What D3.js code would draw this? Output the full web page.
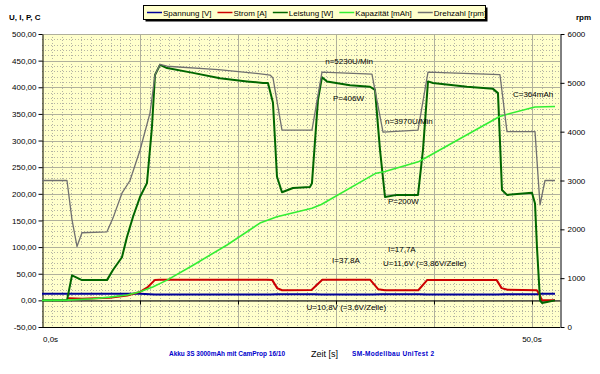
<!DOCTYPE html>
<html>
<head>
<meta charset="utf-8">
<script src="https://cdn.jsdelivr.net/npm/d3@7"></script>
<style>
    body { margin: 0; background: #fff; }
    text { font-family: Arial, "Liberation Sans", sans-serif; }
</style>
</head>
<body>
<div id="chart"></div>
<script>
/* Data (time in s) */
const spannungT = [0, 2.6, 3.0, 10.0, 11.5, 23.3, 24.0, 27.8, 28.5, 33.8, 34.6, 38.5, 39.3, 46.5, 47.2, 50.5, 51.0, 52.35];
const spannungV = [12.6, 12.6, 12.3, 12.2, 10.8, 10.8, 11.6, 11.6, 10.8, 10.8, 11.6, 11.6, 10.8, 10.8, 11.6, 11.7, 12.2, 12.4];

const stromT = [2.65, 4.1, 6.9, 8.7, 10.0, 10.8, 11.5, 12.0, 23.0, 23.5, 24.0, 24.5, 27.5, 28.6, 33.5, 34.3, 35.0, 38.4, 39.3, 46.4, 46.9, 47.5, 50.5, 50.8, 51.0, 52.35];
const stromA = [4, 3, 5, 9, 16, 25, 38, 38.5, 38.5, 38, 23, 19, 19.5, 38.5, 38.5, 21, 19, 19, 38, 38, 23, 20, 19, 10, 0, 0];

const leistungT = [0, 2.55, 3.06, 4.08, 6.63, 7.24, 8.16, 8.67, 9.29, 10.0, 10.71, 11.22, 11.53, 12.04, 12.76, 15.41, 18.16, 20.92, 22.55, 23.06, 23.57, 23.98, 24.49, 25.61, 27.35, 27.55, 28.16, 28.57, 29.08, 31.43, 33.47, 33.98, 34.49, 35.0, 36.22, 38.37, 38.88, 39.39, 39.9, 43.37, 46.02, 46.53, 46.94, 47.45, 50.0, 50.31, 50.51, 50.82, 51.02, 51.53, 52.35];
const leistungW = [0, 0, 47, 38, 38, 57, 81, 119, 157, 194, 220, 325, 423, 442, 436, 427, 417, 411, 408, 408, 371, 232, 203, 211, 213, 220, 376, 419, 411, 404, 401, 395, 283, 194, 198, 198, 283, 411, 408, 401, 397, 389, 207, 198, 202, 182, 100, 0, -5, -3, 0];

const kapazitaetT = [0, 2.6, 5.2, 6.9, 8.7, 10.0, 11.3, 12.76, 15.41, 18.88, 22.24, 23.98, 27.55, 28.5, 34.0, 35.0, 38.4, 39.4, 46.7, 47.4, 50.3, 52.35];
const kapazitaetMAh = [0, 0.5, 3, 6, 10, 16, 25, 38, 66, 104, 145, 157, 173, 180, 238, 242, 260, 270, 345, 349, 363, 364];

const drehzahlT = [0, 2.55, 3.06, 3.57, 4.08, 6.63, 7.24, 8.16, 8.98, 10.0, 11.02, 11.53, 12.04, 12.76, 18.0, 22.5, 23.27, 23.57, 24.49, 27.55, 28.57, 33.67, 34.8, 38.37, 39.39, 46.73, 47.45, 50.31, 50.82, 51.33, 52.35];
const drehzahlRpm = [3000, 3000, 2200, 1650, 1930, 1950, 2230, 2740, 3000, 3620, 4380, 5160, 5380, 5340, 5270, 5180, 5160, 5100, 4030, 4030, 5220, 5180, 3990, 4030, 5220, 5170, 4000, 4000, 2500, 3000, 3000];

const seriesNames = ["Spannung [V]", "Strom [A]", "Leistung [W]", "Kapazität [mAh]", "Drehzahl [rpm]"];
const seriesColors = ["#000099", "#cc0000", "#006600", "#33ee33", "#707070"];

const leftTicks = [-50, 0, 50, 100, 150, 200, 250, 300, 350, 400, 450, 500];
const rightTicks = [0, 1000, 2000, 3000, 4000, 5000, 6000];
const timeLabels = [0, 50];

const notes = [
    { text: "n=5230U/Min", t: 28.9, v: 444 },
    { text: "P=406W", t: 29.7, v: 374 },
    { text: "n=3970U/Min", t: 35.0, v: 331 },
    { text: "C=364mAh", t: 48.06, v: 382 },
    { text: "P=200W", t: 35.3, v: 180 },
    { text: "I=17,7A", t: 35.3, v: 91 },
    { text: "I=37,8A", t: 29.6, v: 70 },
    { text: "U=11,6V (=3,86V/Zelle)", t: 34.8, v: 64.5 },
    { text: "U=10,8V (=3,6V/Zelle)", t: 27.0, v: -18 }
];

/* Layout */
const W = 600, H = 374;
const plot = { left: 42, right: 560, top: 34, bottom: 327 };

const x = d3.scaleLinear().domain([0, 52.86]).range([plot.left, plot.right]);
const yL = d3.scaleLinear().domain([-50, 500]).range([plot.bottom, plot.top]);
const yR = d3.scaleLinear().domain([0, 6000]).range([plot.bottom, plot.top]);

const svg = d3.select("#chart").append("svg")
    .attr("width", W)
    .attr("height", H);

/* Plot background */
svg.append("rect")
    .attr("x", plot.left).attr("y", plot.top)
    .attr("width", plot.right - plot.left)
    .attr("height", plot.bottom - plot.top)
    .attr("fill", "#ffffcc");

/* Grid: dotted minor, solid major */
const grid = svg.append("g");
grid.selectAll("line.minorh")
    .data(d3.range(-50, 501, 10).filter(v => v % 50 != 0))
    .enter().append("line")
    .attr("x1", plot.left).attr("x2", plot.right)
    .attr("y1", d => Math.round(yL(d)) + 0.5).attr("y2", d => Math.round(yL(d)) + 0.5)
    .attr("stroke", "#b4b4a4").attr("stroke-dasharray", "1,2");
grid.selectAll("line.minorv")
    .data(d3.range(1, 53).filter(t => t % 10 != 0))
    .enter().append("line")
    .attr("x1", d => Math.round(x(d)) + 0.5).attr("x2", d => Math.round(x(d)) + 0.5)
    .attr("y1", plot.top).attr("y2", plot.bottom)
    .attr("stroke", "#b4b4a4").attr("stroke-dasharray", "1,2");
grid.selectAll("line.majorh")
    .data(d3.range(-50, 501, 50))
    .enter().append("line")
    .attr("x1", plot.left).attr("x2", plot.right)
    .attr("y1", d => Math.round(yL(d)) + 0.5).attr("y2", d => Math.round(yL(d)) + 0.5)
    .attr("stroke", "#b0b09c");
grid.selectAll("line.majorv")
    .data(d3.range(10, 53, 10))
    .enter().append("line")
    .attr("x1", d => Math.round(x(d)) + 0.5).attr("x2", d => Math.round(x(d)) + 0.5)
    .attr("y1", plot.top).attr("y2", plot.bottom)
    .attr("stroke", "#b0b09c");

/* Axes */
const fmtLeft = d => d.toFixed(2).replace(".", ",");

const leftAxis = svg.append("g")
    .attr("transform", "translate(" + (plot.left + 0.5) + ",0)")
    .call(d3.axisLeft(yL).tickValues(leftTicks).tickFormat(fmtLeft).tickSize(4).tickSizeOuter(0));

const rightAxis = svg.append("g")
    .attr("transform", "translate(" + (plot.right + 0.5) + ",0)")
    .call(d3.axisRight(yR).tickValues(rightTicks).tickFormat(d => d).tickSize(4).tickSizeOuter(0));

// zero line with the time ticks
const zeroAxis = svg.append("g")
    .attr("transform", "translate(0," + (Math.round(yL(0)) + 0.5) + ")")
    .call(d3.axisBottom(x).tickValues(d3.range(10, 53, 10)).tickFormat("").tickSize(4).tickSizeOuter(0));

svg.append("line")
    .attr("x1", plot.left).attr("x2", plot.right)
    .attr("y1", plot.bottom + 0.5).attr("y2", plot.bottom + 0.5)
    .attr("stroke", "#000");

[leftAxis, rightAxis, zeroAxis].forEach(a => {
    a.selectAll("text").attr("font-size", 8).attr("fill", "#000")
        .style("font-family", "Arial, 'Liberation Sans', sans-serif");
    a.selectAll("line, path").attr("stroke", "#000");
});
leftAxis.selectAll("text").attr("x", -6);
rightAxis.selectAll("text").attr("x", 7);

svg.selectAll("text.tlabel")
    .data(timeLabels)
    .enter().append("text")
    .attr("x", d => d == 0 ? x(d) + 1 : x(d))
    .attr("y", 342)
    .attr("text-anchor", d => d == 0 ? "start" : "middle")
    .attr("font-size", 8)
    .text(d => d.toFixed(1).replace(".", ",") + "s");

/* Series lines */
function drawSeries(ts, vs, yScale, color, width) {
    const pts = ts.map((t, i) => [t, vs[i]]);
    svg.append("path")
        .datum(pts)
        .attr("fill", "none")
        .attr("stroke", color)
        .attr("stroke-width", width)
        .attr("stroke-linejoin", "round")
        .attr("d", d3.line().x(d => x(d[0])).y(d => yScale(d[1])));
}

drawSeries(spannungT, spannungV, yL, seriesColors[0], 2);
drawSeries(stromT, stromA, yL, seriesColors[1], 2);
drawSeries(leistungT, leistungW, yL, seriesColors[2], 2);
drawSeries(kapazitaetT, kapazitaetMAh, yL, seriesColors[3], 1.6);
drawSeries(drehzahlT, drehzahlRpm, yR, seriesColors[4], 1.3);

/* Annotations */
svg.selectAll("text.note")
    .data(notes)
    .enter().append("text")
    .attr("x", d => x(d.t))
    .attr("y", d => yL(d.v))
    .attr("font-size", 8)
    .attr("fill", "#000")
    .text(d => d.text);

/* Axis titles */
svg.append("text").attr("x", 9).attr("y", 20)
    .attr("font-size", 8).attr("font-weight", "bold").text("U, I, P, C");
svg.append("text").attr("x", 576).attr("y", 20)
    .attr("font-size", 8).attr("font-weight", "bold").text("rpm");

/* Legend */
const legend = svg.append("g");
const legendBox = { x: 143.5, y: 5.5, w: 342, h: 14 };
legend.append("rect")
    .attr("x", legendBox.x + 2).attr("y", legendBox.y + 2)
    .attr("width", legendBox.w).attr("height", legendBox.h)
    .attr("fill", "#000");
legend.append("rect")
    .attr("x", legendBox.x).attr("y", legendBox.y)
    .attr("width", legendBox.w).attr("height", legendBox.h)
    .attr("fill", "#ffffcc").attr("stroke", "#000");

let lx = 147;
seriesNames.forEach((name, i) => {
    legend.append("line")
        .attr("x1", lx).attr("x2", lx + 15)
        .attr("y1", 12.5).attr("y2", 12.5)
        .attr("stroke", seriesColors[i]).attr("stroke-width", 1.5);
    const t = legend.append("text")
        .attr("x", lx + 16).attr("y", 15.5)
        .attr("font-size", 8)
        .text(name);
    lx += 16 + t.node().getComputedTextLength() + 6;
});

/* Footer */
svg.append("text").attr("x", 169).attr("y", 356)
    .attr("font-size", 6.5).attr("font-weight", "bold").attr("fill", "#0000cc")
    .attr("textLength", 116).text("Akku 3S 3000mAh mit CamProp 16/10");
svg.append("text").attr("x", 311).attr("y", 357)
    .attr("font-size", 9).attr("fill", "#000").text("Zeit [s]");
svg.append("text").attr("x", 352).attr("y", 356)
    .attr("font-size", 6.5).attr("font-weight", "bold").attr("fill", "#0000cc")
    .attr("textLength", 82).text("SM-Modellbau UniTest 2");
</script>
</body>
</html>
